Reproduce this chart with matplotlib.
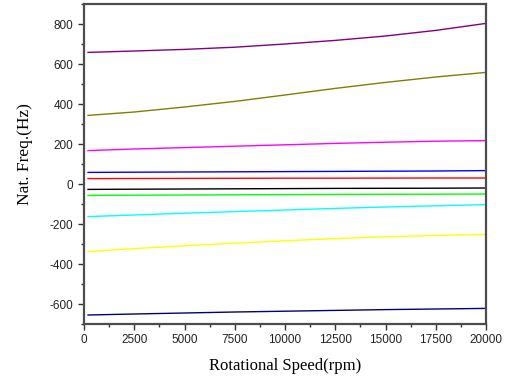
import matplotlib
matplotlib.use("Agg")
import matplotlib.pyplot as plt
from matplotlib.ticker import MultipleLocator

plt.rcParams["axes.unicode_minus"] = False

# rotational speed (rpm)
speed = [200, 2500, 5000, 7500, 10000, 12500, 15000, 17500, 20000]

# natural frequencies (Hz), one list per mode
purple = [658, 665, 673, 684, 700, 718, 740, 768, 803]
olive = [343, 360, 385, 413, 445, 478, 508, 535, 558]
magenta = [167, 175, 182, 189, 196, 203, 209, 214, 217]
blue = [58, 59, 60, 61, 62, 63, 64, 65, 67]
red = [27, 27.5, 28, 28.5, 29, 29, 29.5, 30, 30]
black = [-27, -26, -25, -24, -23, -22, -21.5, -21, -20]
green = [-57, -56, -55, -54, -53, -52, -51.5, -51, -50]
cyan = [-163, -155, -146, -138, -130, -122, -115, -109, -103]
yellow = [-337, -323, -309, -296, -284, -273, -264, -257, -252]
navy = [-655, -650, -645, -640, -636, -632, -628, -625, -622]

modes = [purple, olive, magenta, blue, red, black, green, cyan, yellow, navy]
colors = ["#800080", "#808000", "#FF00FF", "#0000FF", "#FF0000",
          "#000000", "#00FF00", "#00FFFF", "#FFFF00", "#000080"]

fig = plt.figure(figsize=(5.07, 3.81), dpi=100)
ax = fig.add_axes([0.1657, 0.1496, 0.7929, 0.8399])

for vals, c in zip(modes, colors):
    ax.plot(speed, vals, color=c, linewidth=1.0)

ax.set_xlim(0, 20000)
ax.set_ylim(-700, 900)
ax.set_xticks([0, 2500, 5000, 7500, 10000, 12500, 15000, 17500, 20000])
ax.set_yticks([-600, -400, -200, 0, 200, 400, 600, 800])
ax.xaxis.set_minor_locator(MultipleLocator(1250))
ax.yaxis.set_minor_locator(MultipleLocator(100))

for s in ax.spines.values():
    s.set_color("#4d4d4d")
    s.set_linewidth(1.6)

ax.tick_params(which="both", direction="out", color="#333333", width=1.0,
               labelsize=8.5, labelcolor="#222222")
ax.tick_params(which="major", length=4)
ax.tick_params(which="minor", length=2.5)
for lab in ax.get_xticklabels() + ax.get_yticklabels():
    lab.set_family("Liberation Sans")

ax.set_xlabel("Rotational Speed(rpm)", family="Liberation Serif", fontsize=12, labelpad=8)
ax.set_ylabel("Nat. Freq.(Hz)", family="Liberation Serif", fontsize=12.5)
ax.yaxis.set_label_coords(-0.126, 0.53)

fig.savefig("out.png", dpi=100)
